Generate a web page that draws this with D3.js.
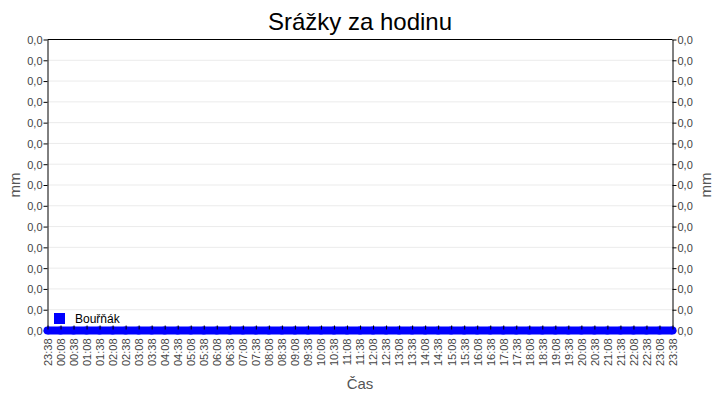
<!DOCTYPE html>
<html>
<head>
<meta charset="utf-8">
<script src="https://cdn.jsdelivr.net/npm/d3@7"></script>
<style>
  body { margin: 0; background: #fff; }
  text { font-family: "Liberation Sans", Arial, sans-serif; }
</style>
</head>
<body>
<div id="chart"></div>
<script>
const timeLabels = [
    '23:38', '00:08', '00:38', '01:08', '01:38', '02:08', '02:38', '03:08', '03:38',
    '04:08', '04:38', '05:08', '05:38', '06:08', '06:38', '07:08', '07:38', '08:08',
    '08:38', '09:08', '09:38', '10:08', '10:38', '11:08', '11:38', '12:08', '12:38',
    '13:08', '13:38', '14:08', '14:38', '15:08', '15:38', '16:08', '16:38', '17:08',
    '17:38', '18:08', '18:38', '19:08', '19:38', '20:08', '20:38', '21:08', '21:38',
    '22:08', '22:38', '23:08', '23:38'
];

const rainfall = [
    0, 0, 0, 0, 0, 0, 0, 0, 0,
    0, 0, 0, 0, 0, 0, 0, 0, 0,
    0, 0, 0, 0, 0, 0, 0, 0, 0,
    0, 0, 0, 0, 0, 0, 0, 0, 0,
    0, 0, 0, 0, 0, 0, 0, 0, 0,
    0, 0, 0, 0
];

const yTicks = [0, 0.001, 0.002, 0.003, 0.004, 0.005, 0.006, 0.007, 0.008, 0.009, 0.01, 0.011, 0.012, 0.013, 0.014];

const seriesName = 'Bouřňák';

const width = 720, height = 400;
const margin = { top: 39.5, right: 47.5, bottom: 69.5, left: 47.5 };

const svg = d3.select('#chart')
    .append('svg')
    .attr('width', width)
    .attr('height', height);

const x = d3.scaleLinear()
    .domain([0, timeLabels.length - 1])
    .range([margin.left, width - margin.right]);

const y = d3.scaleLinear()
    .domain([0, 0.014])
    .range([height - margin.bottom, margin.top]);

const fmt = v => d3.format('.1f')(v).replace('.', ',');

// grid
svg.selectAll('.grid')
    .data(yTicks.slice(1, -1))
    .enter().append('line')
    .attr('class', 'grid')
    .attr('x1', margin.left)
    .attr('x2', width - margin.right)
    .attr('y1', d => y(d))
    .attr('y2', d => y(d))
    .style('stroke', '#ebebeb')
    .style('stroke-width', 1);

// left axis
const leftAxis = svg.append('g')
    .attr('transform', `translate(${margin.left},0)`)
    .call(d3.axisLeft(y).tickValues(yTicks).tickFormat(fmt).tickSize(4).tickSizeOuter(0));

// right axis
const rightAxis = svg.append('g')
    .attr('transform', `translate(${width - margin.right},0)`)
    .call(d3.axisRight(y).tickValues(yTicks).tickFormat(fmt).tickSize(4).tickSizeOuter(0));

[leftAxis, rightAxis].forEach(g => {
    g.select('.domain').style('stroke', '#000');
    g.selectAll('.tick line').style('stroke', '#000');
    g.selectAll('.tick text')
        .style('font-size', '11px')
        .style('fill', '#444')
        .attr('dy', '0.35em');
});
leftAxis.selectAll('.tick text').attr('x', -5);
rightAxis.selectAll('.tick text').attr('x', 5);

// top border
svg.append('line')
    .attr('x1', margin.left)
    .attr('x2', width - margin.right)
    .attr('y1', margin.top)
    .attr('y2', margin.top)
    .style('stroke', '#000');

// series
const line = d3.line()
    .x((d, i) => x(i))
    .y(d => y(d));

svg.append('path')
    .datum(rainfall)
    .attr('d', line)
    .style('fill', 'none')
    .style('stroke', '#0000ff')
    .style('stroke-width', 8);

svg.selectAll('.dot')
    .data(rainfall)
    .enter().append('circle')
    .attr('class', 'dot')
    .attr('cx', (d, i) => x(i))
    .attr('cy', d => y(d))
    .attr('r', 4)
    .style('fill', '#0000ff');

// bottom axis (on top of the series so the tick marks show)
const bottomAxis = svg.append('g')
    .attr('transform', `translate(0,${height - margin.bottom})`)
    .call(d3.axisBottom(x)
        .tickValues(d3.range(timeLabels.length))
        .tickFormat(i => timeLabels[i])
        .tickSize(-5)
        .tickSizeOuter(0));

bottomAxis.select('.domain').style('stroke', 'none');
bottomAxis.selectAll('.tick line').style('stroke', '#000').attr('y1', -1);
bottomAxis.selectAll('.tick text')
    .style('font-size', '11px')
    .style('fill', '#444')
    .attr('text-anchor', 'end')
    .attr('transform', 'rotate(-90)')
    .attr('x', -8)
    .attr('y', 0)
    .attr('dy', '0.35em');

// legend
svg.append('rect')
    .attr('x', 54)
    .attr('y', 313)
    .attr('width', 11)
    .attr('height', 11)
    .style('fill', '#0000ff');

svg.append('text')
    .attr('x', 75)
    .attr('y', 323)
    .style('font-size', '12px')
    .style('fill', '#000')
    .text(seriesName);

// titles
svg.append('text')
    .attr('x', width / 2)
    .attr('y', 30)
    .attr('text-anchor', 'middle')
    .style('font-size', '24px')
    .style('fill', '#000')
    .text('Srážky za hodinu');

svg.append('text')
    .attr('x', width / 2)
    .attr('y', 389)
    .attr('text-anchor', 'middle')
    .style('font-size', '15px')
    .style('fill', '#555')
    .text('Čas');

svg.append('text')
    .attr('transform', `translate(20,185) rotate(-90)`)
    .attr('text-anchor', 'middle')
    .style('font-size', '15px')
    .style('fill', '#555')
    .text('mm');

svg.append('text')
    .attr('transform', `translate(711,185) rotate(-90)`)
    .attr('text-anchor', 'middle')
    .style('font-size', '15px')
    .style('fill', '#555')
    .text('mm');
</script>
</body>
</html>
